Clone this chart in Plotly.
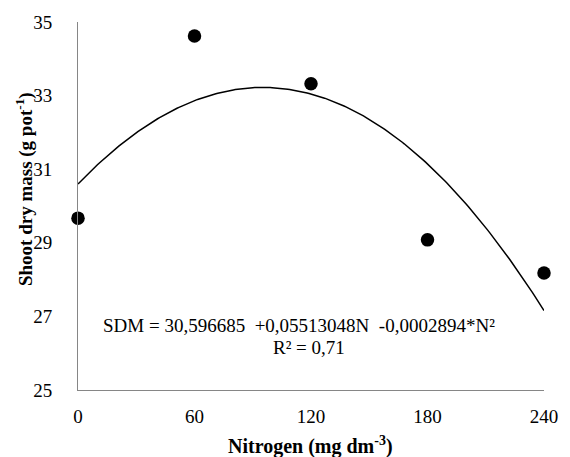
import numpy as np
import plotly.graph_objects as go

# Data
nitrogen = [0, 60, 120, 180, 240]
sdm = [29.67, 34.62, 33.32, 29.08, 28.18]
# Regression coefficients shown on the chart
b0, b1, b2 = 30.596685, 0.05513048, -0.0002894
x_ticks = [0, 60, 120, 180, 240]
y_ticks = [25, 27, 29, 31, 33, 35]

xf = np.linspace(0, 240, 241)
yf = b0 + b1 * xf + b2 * xf ** 2

FONT = "Liberation Serif, Times New Roman, serif"
L, R, T, B, W, H = 78, 17, 22, 67, 570, 457
pw, ph = W - L - R, H - T - B


def px(xp):
    return (xp - L) / pw


def py(yp):
    return (H - B - yp) / ph


fig = go.Figure()
fig.add_trace(go.Scatter(x=xf, y=yf, mode="lines",
                         line=dict(color="black", width=1.5),
                         hoverinfo="skip", showlegend=False))
fig.add_trace(go.Scatter(x=nitrogen, y=sdm, mode="markers",
                         marker=dict(color="black", size=13.5),
                         cliponaxis=False, showlegend=False))

fig.update_layout(
    width=W, height=H,
    margin=dict(l=L, r=R, t=T, b=B),
    paper_bgcolor="white", plot_bgcolor="white",
    font=dict(family=FONT, size=19, color="black"),
    xaxis=dict(range=[0, 240], tickvals=x_ticks, ticks="", showgrid=False,
               zeroline=False, showline=True, linecolor="#868686", linewidth=1,
               ticklabelstandoff=9, tickfont=dict(size=19)),
    yaxis=dict(range=[25, 35], tickvals=y_ticks, ticks="", showgrid=False,
               zeroline=False, showline=True, linecolor="#868686", linewidth=1,
               ticklabelstandoff=21, tickfont=dict(size=19)),
)

common = dict(xref="paper", yref="paper", showarrow=False,
              xanchor="center", yanchor="middle")
fig.add_annotation(x=px(315), y=py(445), text="<b>Nitrogen (mg dm<sup>-3</sup>)</b>",
                   font=dict(size=20), **common)
fig.add_annotation(x=px(23), y=py(189), textangle=-90,
                   text="<b>Shoot dry mass (g pot<sup>-1</sup>)</b>",
                   font=dict(size=19), **common)
fig.add_annotation(x=px(303), y=py(325),
                   text="SDM = 30,596685  +0,05513048N  -0,0002894*N²",
                   font=dict(size=19), **common)
fig.add_annotation(x=px(313), y=py(347), text="R² = 0,71",
                   font=dict(size=19), **common)

fig.write_html("out.html")
